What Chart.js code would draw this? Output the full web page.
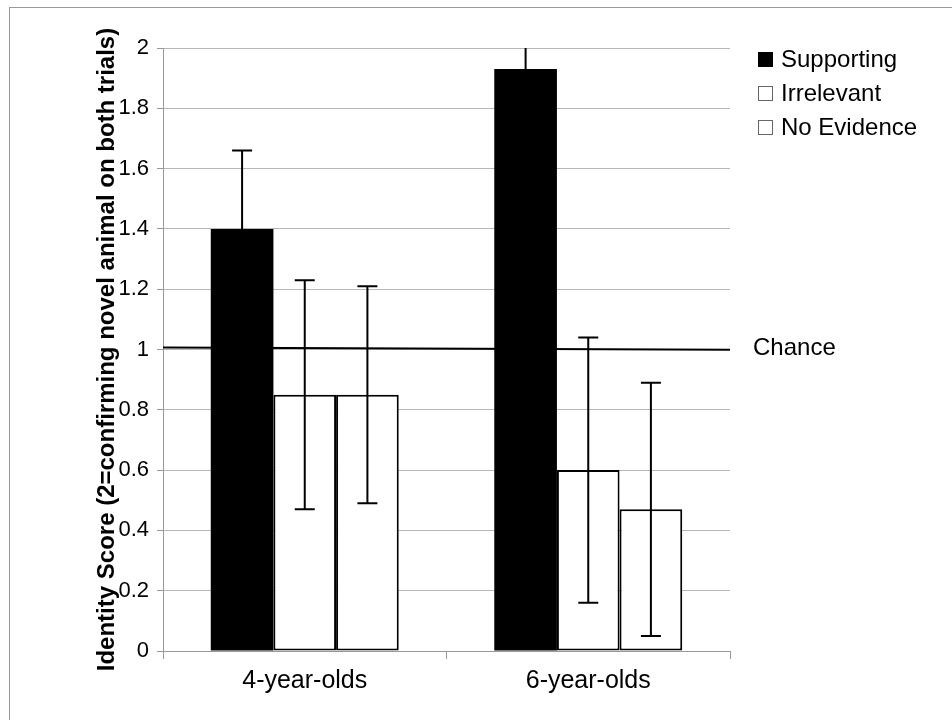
<!DOCTYPE html>
<html>
<head>
<meta charset="utf-8">
<script src="https://cdn.jsdelivr.net/npm/chart.js@4.4.1/dist/chart.umd.min.js"></script>
<style>
  html, body { margin: 0; padding: 0; background: #fff; }
  #wrap { position: relative; width: 952px; height: 720px; }
  #frame { position: absolute; left: 9px; top: 7px; right: 0; bottom: 0;
           border-left: 1px solid #999; border-top: 1px solid #999; pointer-events: none; }
  canvas { position: absolute; left: 0; top: 0; }
</style>
</head>
<body>
<div id="wrap">
  <canvas id="c" width="952" height="720"></canvas>
  <div id="frame"></div>
</div>
<script>
// ---- data ----
const categories = ['4-year-olds', '6-year-olds'];
const seriesNames = ['Supporting', 'Irrelevant', 'No Evidence'];
const supporting = [1.40, 1.93];
const irrelevant = [0.85, 0.60];
const noEvidence = [0.85, 0.47];
const supportingErr = [0.26, 0.26];
const irrelevantErr = [0.38, 0.44];
const noEvidenceErr = [0.36, 0.42];
const yTickLabels = ['0', '0.2', '0.4', '0.6', '0.8', '1', '1.2', '1.4', '1.6', '1.8', '2'];
const chanceStart = 1.007;
const chanceEnd = 0.999;
const chanceLabel = 'Chance';
const yTitle = 'Identity Score (2=confirming novel animal on both trials)';

const FONT = '"Liberation Sans", Arial, sans-serif';
const errs = [supportingErr, irrelevantErr, noEvidenceErr];
const fills = ['#000000', '#ffffff', '#ffffff'];

const overlay = {
  id: 'overlay',
  afterDatasetsDraw(chart) {
    const ctx = chart.ctx;
    const y = chart.scales.y;
    const area = chart.chartArea;
    ctx.save();
    ctx.beginPath();
    ctx.rect(area.left, area.top, area.right - area.left, area.bottom - area.top);
    ctx.clip();
    ctx.strokeStyle = '#000';
    ctx.lineWidth = 2;
    chart.data.datasets.forEach((ds, di) => {
      const meta = chart.getDatasetMeta(di);
      meta.data.forEach((bar, i) => {
        const v = ds.data[i], e = errs[di][i];
        const x = bar.x;
        const yt = y.getPixelForValue(v + e);
        const yb = y.getPixelForValue(v - e);
        ctx.beginPath();
        ctx.moveTo(x, yt); ctx.lineTo(x, yb);
        ctx.moveTo(x - 10, yt); ctx.lineTo(x + 10, yt);
        ctx.moveTo(x - 10, yb); ctx.lineTo(x + 10, yb);
        ctx.stroke();
      });
    });
    ctx.beginPath();
    ctx.moveTo(area.left, y.getPixelForValue(chanceStart));
    ctx.lineTo(area.right, y.getPixelForValue(chanceEnd));
    ctx.stroke();
    ctx.restore();
  },
  afterDraw(chart) {
    const ctx = chart.ctx;
    const y = chart.scales.y;
    const area = chart.chartArea;
    ctx.save();
    ctx.font = '24px ' + FONT;
    ctx.fillStyle = '#000';
    ctx.textBaseline = 'middle';
    ctx.textAlign = 'left';
    ctx.fillText(chanceLabel, area.right + 23, y.getPixelForValue(chanceEnd) - 1);
    chart.data.datasets.forEach((ds, di) => {
      const cy = 59.5 + di * 34;
      const bx = 758;
      ctx.fillStyle = fills[di];
      ctx.fillRect(bx, cy - 7.5, 15, 15);
      if (di > 0) {
        ctx.strokeStyle = '#666';
        ctx.lineWidth = 1;
        ctx.strokeRect(bx + 0.5, cy - 7, 14, 14);
      }
      ctx.fillStyle = '#000';
      ctx.fillText(ds.label, 781, cy + 1);
    });
    ctx.restore();
  }
};

new Chart(document.getElementById('c'), {
  type: 'bar',
  data: {
    labels: categories,
    datasets: [
      { label: seriesNames[0], data: supporting, backgroundColor: fills[0], borderColor: '#000', borderWidth: 0 },
      { label: seriesNames[1], data: irrelevant, backgroundColor: fills[1], borderColor: '#000', borderWidth: 2, borderSkipped: false },
      { label: seriesNames[2], data: noEvidence, backgroundColor: fills[2], borderColor: '#000', borderWidth: 2, borderSkipped: false }
    ]
  },
  options: {
    responsive: false,
    animation: false,
    events: [],
    layout: { padding: { left: 89, right: 222, top: 48, bottom: 23 } },
    datasets: { bar: { categoryPercentage: 0.663, barPercentage: 1.0 } },
    plugins: { legend: { display: false }, tooltip: { enabled: false } },
    scales: {
      x: {
        afterFit(s) { s.height = 46; },
        grid: { offset: true, drawOnChartArea: false, tickLength: 8, color: '#999' },
        border: { color: '#999', width: 1 },
        ticks: { color: '#000', font: { family: FONT, size: 25 }, padding: 7 }
      },
      y: {
        min: 0, max: 2,
        afterFit(s) { s.width = 74; },
        ticks: {
          stepSize: 0.2, color: '#000', padding: 8,
          font: { family: FONT, size: 22 },
          callback: (v, i) => yTickLabels[i]
        },
        grid: { color: '#b8b8b8', tickLength: 6, tickColor: '#999' },
        border: { color: '#999', width: 1 },
        title: { display: true, text: yTitle, color: '#000', font: { family: FONT, size: 24, weight: 'bold' }, padding: { top: 4, bottom: 4 } }
      }
    }
  },
  plugins: [overlay]
});
</script>
</body>
</html>
